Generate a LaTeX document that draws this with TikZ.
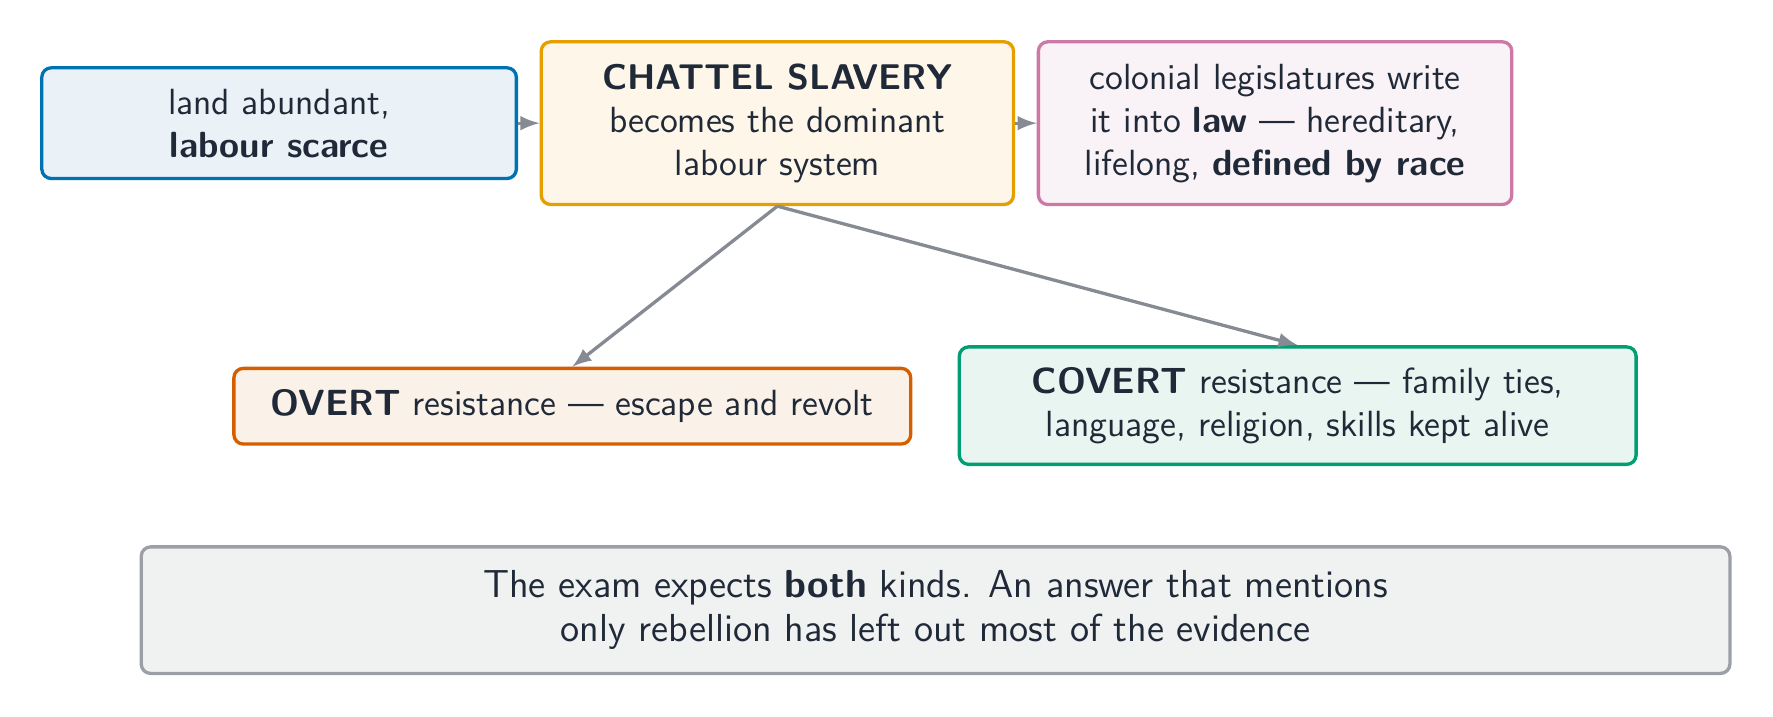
\documentclass[tikz,border=0pt]{standalone}
\usepackage{tikz}
\usetikzlibrary{shapes}
\usepackage[dvipsnames]{xcolor}
\tikzset{>=latex}

\definecolor{inkdark}{HTML}{1F2937}
\definecolor{arrowgrey}{HTML}{858A93}
\definecolor{landline}{HTML}{0072B2}
\definecolor{landfill}{HTML}{EAF2F8}
\definecolor{chatline}{HTML}{E69F00}
\definecolor{chatfill}{HTML}{FDF6E9}
\definecolor{lawline}{HTML}{CC79A7}
\definecolor{lawfill}{HTML}{F9F2F6}
\definecolor{overtline}{HTML}{D55E00}
\definecolor{overtfill}{HTML}{FAF1E8}
\definecolor{covertline}{HTML}{009E73}
\definecolor{covertfill}{HTML}{E8F5F1}
\definecolor{noteline}{HTML}{9CA0A6}
\definecolor{notefill}{HTML}{F0F2F2}

\tikzset{
  box/.style={draw, rounded corners=0.1cm, line width=1pt, align=center,
    text=inkdark, font=\sffamily\fontsize{11}{13}\selectfont, inner sep=0pt},
  flow/.style={->, draw=arrowgrey, line width=1pt}
}

\begin{document}
\begin{tikzpicture}
      \useasboundingbox (0,0) rectangle (18.83,-7.608);

      \node (land) at (2.964,-1.308) [box, draw=landline, fill=landfill,
            minimum width=5.04cm, minimum height=1.176cm]
            {land abundant,\\ \textbf{labour scarce}};
      \node (chattel) at (8.256,-1.308) [box, draw=chatline, fill=chatfill,
            minimum width=5.016cm, minimum height=1.728cm]
            {{\fontsize{10.8}{13}\selectfont\textbf{CHATTEL SLAVERY}}\\ becomes the dominant\\ labour system};
      \node (law) at (13.542,-1.308) [box, draw=lawline, fill=lawfill,
            minimum width=5.028cm, minimum height=1.728cm]
            {colonial legislatures write\\ it into \textbf{law} --- hereditary,\\ lifelong, \textbf{defined by race}};

      \node (overt) at (6.078,-4.314) [box, draw=overtline, fill=overtfill,
            minimum width=7.188cm, minimum height=0.804cm]
            {\textbf{OVERT} resistance --- escape and revolt};
      \node (covert) at (13.782,-4.308) [box, draw=covertline, fill=covertfill,
            minimum width=7.188cm, minimum height=1.248cm]
            {\textbf{COVERT} resistance --- family ties,\\ language, religion, skills kept alive};

      \node (note) at (9.936,-6.48) [box, draw=noteline, fill=notefill,
            minimum width=16.872cm, minimum height=1.344cm,
            font=\sffamily\fontsize{11.8}{13.4}\selectfont]
            {The exam expects \textbf{both} kinds. An answer that mentions\\ only rebellion has left out most of the evidence};

      \draw[flow] (land) -- (chattel);
      \draw[flow] (chattel) -- (law);
      \draw[flow] (chattel.south) -- (overt.north);
      \draw[flow] (chattel.south) -- (covert.north);

\end{tikzpicture}
\end{document}
